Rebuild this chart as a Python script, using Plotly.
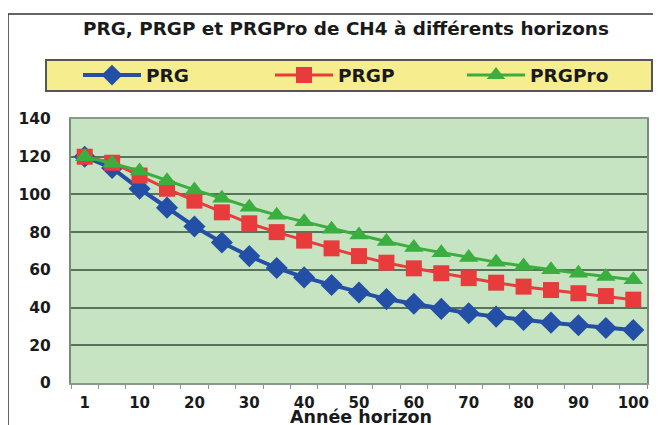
import plotly.graph_objects as go

horizons = [1, 5, 10, 15, 20, 25, 30, 35, 40, 45, 50, 55, 60, 65, 70, 75, 80, 85, 90, 95, 100]
prg = [120, 114, 103, 93, 83, 74.5, 67.3, 61, 56, 52, 48, 44.5, 42, 39.3, 37, 35.2, 33.4, 32, 30.6, 29.2, 28.1]
prgp = [120, 116.8, 110, 103, 96.7, 90.5, 84.7, 80, 75.5, 71.4, 67.3, 63.8, 60.8, 58.2, 55.6, 53.2, 51.1, 49.3, 47.6, 46.1, 44.2]
prgpro = [120, 116.5, 112.4, 107.2, 102.4, 98, 93.2, 89, 85.5, 81.6, 78.5, 75, 71.8, 69.1, 66.5, 64.1, 62, 60, 58.2, 56.5, 54.8]
tick_labels = [1, 10, 20, 30, 40, 50, 60, 70, 80, 90, 100]
y_ticks = [0, 20, 40, 60, 80, 100, 120, 140]

idx = list(range(len(horizons)))
tick_pos = [horizons.index(t) for t in tick_labels]

FONT = "DejaVu Sans"
TXT = "#1a1a1a"

fig = go.Figure()
fig.add_trace(go.Scatter(x=idx, y=prg, name="PRG", mode="lines+markers",
                         line=dict(color="#2350a6", width=4),
                         marker=dict(symbol="diamond", size=17, color="#2350a6")))
fig.add_trace(go.Scatter(x=idx, y=prgp, name="PRGP", mode="lines+markers",
                         line=dict(color="#e83c3c", width=3),
                         marker=dict(symbol="square", size=16, color="#e83c3c")))
fig.add_trace(go.Scatter(x=idx, y=prgpro, name="PRGPro", mode="lines+markers",
                         line=dict(color="#3aae3e", width=3),
                         marker=dict(symbol="triangle-up", size=17, color="#3aae3e")))

# page body has an 8px margin; work in figure coordinates
OFF = 8
W, H = 661 - OFF, 425 - OFF
L, R, T, B = 71 - OFF, 647 - OFF, 119 - OFF, 383 - OFF
pw, ph = R - L, B - T

def px(x):
    return (x - OFF - L) / pw

def py(y):
    return (B - (y - OFF)) / ph

fig.update_layout(
    width=W, height=H,
    margin=dict(l=L, r=W - R, t=T, b=H - B, autoexpand=False),
    paper_bgcolor="white",
    plot_bgcolor="#c6e4c2",
    font=dict(family=FONT, size=13, color=TXT),
    title=dict(text="PRG, PRGP et PRGPro de CH4 à différents horizons",
               x=px(346), xref="paper", xanchor="center",
               y=1 - (29 - OFF) / H, yanchor="middle",
               font=dict(family=FONT, size=18.4, color=TXT, weight="bold")),
    showlegend=True,
    legend=dict(orientation="h", x=px(78), xanchor="left", y=py(75.5), yanchor="middle",
                bgcolor="rgba(0,0,0,0)", borderwidth=0,
                font=dict(family=FONT, size=18.5, color=TXT, weight="bold"),
                itemwidth=58, entrywidth=119, entrywidthmode="pixels",
                itemclick=False),
    shapes=[
        dict(type="rect", xref="paper", yref="paper",
             x0=px(8), x1=px(700), y0=py(460), y1=py(14),
             line=dict(color="#333333", width=1.5), fillcolor="rgba(0,0,0,0)", layer="below"),
        dict(type="rect", xref="paper", yref="paper",
             x0=px(46), x1=px(652), y0=py(91), y1=py(60),
             line=dict(color="#555555", width=2), fillcolor="#f6ee8e", layer="below"),
    ],
    annotations=[
        dict(text="Année horizon", xref="paper", yref="paper",
             x=px(361), y=py(417), xanchor="center", yanchor="middle",
             showarrow=False,
             font=dict(family=FONT, size=17.5, color=TXT, weight="bold")),
    ],
)

fig.update_xaxes(
    range=[-0.5, len(horizons) - 0.5],
    tickmode="array", tickvals=tick_pos, ticktext=[str(t) for t in tick_labels],
    ticks="", showgrid=False, zeroline=False,
    showline=True, linecolor="#8a9a8a", linewidth=2, mirror=True,
    tickfont=dict(family=FONT, size=15, color=TXT, weight="bold"),
    minor=dict(tick0=-0.5, dtick=1, ticks="outside", ticklen=4, tickcolor="#8a9a8a", tickwidth=1, showgrid=False),
    ticklabelstandoff=5,
)
fig.update_yaxes(
    range=[0, 140],
    tickmode="array", tickvals=y_ticks, ticktext=[str(v) for v in y_ticks],
    showgrid=True, gridcolor="#56745a", gridwidth=1.5,
    zeroline=False,
    showline=True, linecolor="#7a8a7a", linewidth=2, mirror=True,
    ticks="", ticklabelstandoff=15,
    tickfont=dict(family=FONT, size=15.5, color=TXT, weight="bold"),
)

fig.write_html("out.html")
